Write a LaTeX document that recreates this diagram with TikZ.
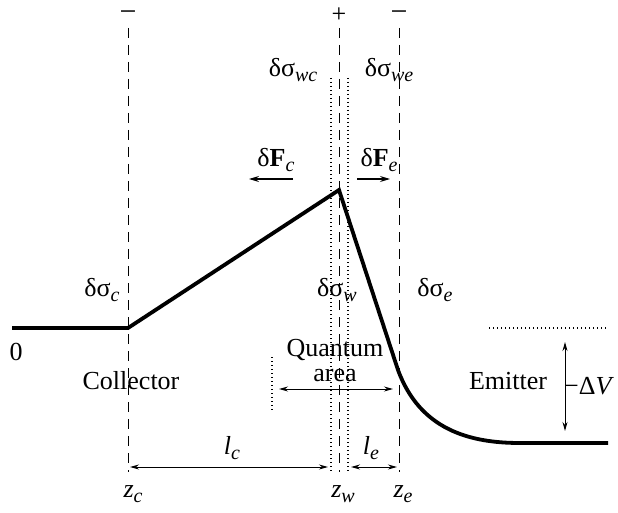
\documentclass[tikz,border=0pt]{standalone}
\usepackage{fontspec}
\setmainfont{Liberation Serif}
\usetikzlibrary{arrows.meta}
\newcommand\sbi[1]{\raisebox{-5pt}{\fontsize{20}{22}\selectfont\itshape #1}}
\begin{document}
\begin{tikzpicture}[x=1pt,y=-1pt,
  every node/.style={font=\fontsize{26}{30}\selectfont, inner sep=0pt},
  dashln/.style={line width=1pt, dash pattern=on 10pt off 7pt},
  dotln/.style={line width=1.2pt, dash pattern=on 1.2pt off 2.8pt},
  curve/.style={line width=3.8pt, line join=miter},
  dim/.style={line width=1pt, {Stealth[length=9pt,width=5pt]}-{Stealth[length=9pt,width=5pt]}},
  force/.style={line width=1.2pt, -{Stealth[length=10pt,width=6pt]}}]
\useasboundingbox (0,0) rectangle (618,513);
% vertical lines
\coordinate (zct) at (128,28); \coordinate (zcb) at (128,472);
\coordinate (zwt) at (339,28); \coordinate (zwb) at (339,472);
\coordinate (d1t) at (331,78); \coordinate (d1b) at (331,472);
\coordinate (d2t) at (348,78); \coordinate (d2b) at (348,472);
\coordinate (zet) at (399,28); \coordinate (zeb) at (399,472);
\draw[dashln] (zct) -- (zcb);
\draw[dashln] (zwt) -- (zwb);
\draw[dashln] (zet) -- (zeb);
\draw[dotln] (d1t) -- (d1b);
\draw[dotln] (d2t) -- (d2b);
% signs
\node (m1) at (128,16) {\fontsize{30}{30}\selectfont −};
\node (p1) at (339,15) {+};
\node (m2) at (399,16) {\fontsize{30}{30}\selectfont −};
% potential curve
\coordinate (a0) at (12,328);
\coordinate (ac) at (128,328);
\coordinate (pk) at (339,190);
\coordinate (kn) at (398,370);
\coordinate (ae) at (608,443);
\draw[curve] (a0) -- (ac) -- (pk) -- (kn) .. controls (420,430) and (470,443) .. (520,443) -- (ae);
% labels
\node (swc) at (293,70) {δσ\sbi{wc}};
\node (swe) at (389,70) {δσ\sbi{we}};
\node (sc) at (102,290) {δσ\sbi{c}};
\node (sw) at (337,290) {δσ\sbi{w}};
\node (se) at (435,290) {δσ\sbi{e}};
\node (zero) at (16,352) {0};
\node (col) at (131,381) {Collector};
\node (emi) at (508,381) {Emitter};
\node[align=center, font=\fontsize{26}{25}\selectfont] (qa) at (335,361) {Quantum\\area};
% forces
\node (Fc) at (276,160) {δ\textbf{F}\sbi{c}};
\node (Fe) at (379,160) {δ\textbf{F}\sbi{e}};
\coordinate (fc1) at (293,179); \coordinate (fc2) at (249,179);
\coordinate (fe1) at (357,179); \coordinate (fe2) at (390,179);
\draw[force] (fc1) -- (fc2);
\draw[force] (fe1) -- (fe2);
% quantum area arrow
\coordinate (q1) at (279,389); \coordinate (q2) at (393,389);
\draw[dim] (q1) -- (q2);
\coordinate (qdt) at (272,357); \coordinate (qdb) at (272,411);
\draw[dotln] (qdt) -- (qdb);
% delta V
\coordinate (dvt) at (489,328); \coordinate (dvr) at (608,328);
\draw[dotln] (dvt) -- (dvr);
\coordinate (v1) at (565,342); \coordinate (v2) at (565,431);
\draw[dim] (v1) -- (v2);
\node (dV) at (589,386) {−Δ\textit{V}};
% lengths
\coordinate (lc1) at (130,467); \coordinate (lc2) at (328,467);
\coordinate (le1) at (351,467); \coordinate (le2) at (397,467);
\draw[dim] (lc1) -- (lc2);
\draw[dim] (le1) -- (le2);
\node (lc) at (232,448) {\textit{l}\sbi{c}};
\node (le) at (371,448) {\textit{l}\sbi{e}};
% z labels
\node (zc) at (133,494) {\textit{z}\sbi{c}};
\node (zw) at (343,494) {\textit{z}\sbi{w}};
\node (ze) at (403,494) {\textit{z}\sbi{e}};
\end{tikzpicture}
\end{document}
